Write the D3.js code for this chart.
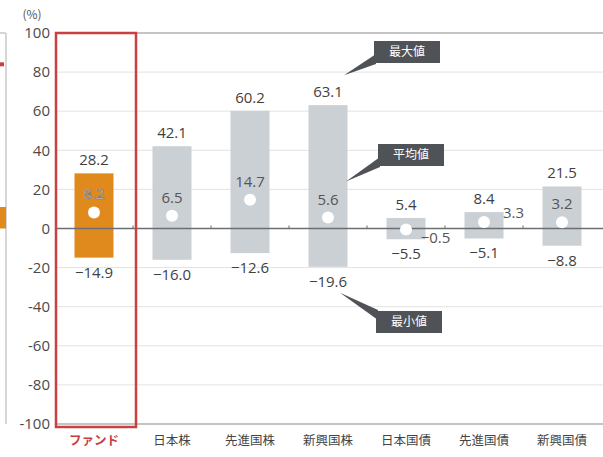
<!DOCTYPE html>
<html>
<head>
<meta charset="utf-8">
<script src="https://cdn.jsdelivr.net/npm/d3@7"></script>
<style>
  body { margin: 0; background: #fff; }
  svg { display: block; font-family: "Noto Sans CJK JP", "Noto Sans", sans-serif; }
</style>
</head>
<body>
<div id="chart"></div>
<script>
var categories = ["ファンド", "日本株", "先進国株", "新興国株", "日本国債", "先進国債", "新興国債"];
var maxVals = [28.2, 42.1, 60.2, 63.1, 5.4, 8.4, 21.5];
var meanVals = [8.2, 6.5, 14.7, 5.6, -0.5, 3.3, 3.2];
var minVals = [-14.9, -16.0, -12.6, -19.6, -5.5, -5.1, -8.8];
var yTicks = [100, 80, 60, 40, 20, 0, -20, -40, -60, -80, -100];

var W = 603, H = 457;
var plotL = 55, plotR = 601, plotT = 33, plotB = 424;

var svg = d3.select("#chart").append("svg")
  .attr("width", W).attr("height", H);

var x = d3.scaleBand().domain(categories).range([plotL, plotR]).paddingInner(0.5).paddingOuter(0.25);
var y = d3.scaleLinear().domain([-100, 100]).range([plotB, plotT]);

// bit of the neighbouring panel on the left
svg.append("line").attr("x1", 6).attr("x2", 6).attr("y1", y(100)).attr("y2", y(-100))
  .attr("stroke", "#c8c8c8").attr("stroke-width", 1.5);
svg.append("line").attr("x1", 0).attr("x2", 6).attr("y1", y(100)).attr("y2", y(100))
  .attr("stroke", "#c8c8c8").attr("stroke-width", 1.5);
svg.append("rect").attr("x", 0).attr("width", 6).attr("y", y(11)).attr("height", y(0) - y(11))
  .attr("fill", "#e08a1e");
svg.append("rect").attr("x", 0).attr("width", 4).attr("y", y(85)).attr("height", 4)
  .attr("fill", "#c8403f");

// gridlines
svg.append("g").selectAll("line").data(yTicks.filter(d => d !== 0)).join("line")
  .attr("x1", plotL).attr("x2", W)
  .attr("y1", d => y(d)).attr("y2", d => y(d))
  .attr("stroke", d => (d === 100 || d === -100) ? "#c4c4c4" : "#e2e2e2")
  .attr("stroke-width", d => (d === 100 || d === -100) ? 2 : 1);

// y axis labels
svg.append("g").selectAll("text").data(yTicks).join("text")
  .attr("x", 50).attr("y", d => y(d)).attr("dy", "0.35em")
  .attr("text-anchor", "end").attr("font-size", 15).attr("fill", "#4a4a4a")
  .attr("font-family", "Open Sans, sans-serif")
  .text(d => d);
svg.append("text").attr("x", 32).attr("y", 19).attr("text-anchor", "middle")
  .attr("font-size", 12).attr("fill", "#555").text("(%)");

// bars
svg.append("g").selectAll("rect").data(categories).join("rect")
  .attr("x", d => x(d)).attr("width", x.bandwidth())
  .attr("y", (d, i) => y(maxVals[i]))
  .attr("height", (d, i) => y(minVals[i]) - y(maxVals[i]))
  .attr("fill", (d, i) => i === 0 ? "#e08a1e" : "#cbd0d5");

// zero line and ticks
svg.append("line").attr("x1", plotL).attr("x2", W).attr("y1", y(0)).attr("y2", y(0))
  .attr("stroke", "#6b6f73").attr("stroke-width", 1.5);
svg.append("g").selectAll("line").data(categories.slice(1)).join("line")
  .attr("x1", d => x(d) - x.step() * 0.25).attr("x2", d => x(d) - x.step() * 0.25)
  .attr("y1", y(0) - 3).attr("y2", y(0))
  .attr("stroke", "#6b6f73");

// mean dots
svg.append("g").selectAll("circle").data(categories).join("circle")
  .attr("cx", d => x(d) + x.bandwidth() / 2)
  .attr("cy", (d, i) => y(meanVals[i]))
  .attr("r", 6).attr("fill", "#fff");

var numFont = "Open Sans, sans-serif";
var g = svg.append("g").attr("font-family", numFont).attr("font-size", 15).attr("fill", "#3f3f3f")
  .attr("text-anchor", "middle");

// max labels
g.selectAll("text.max").data(categories).join("text").attr("class", "max")
  .attr("x", d => x(d) + x.bandwidth() / 2)
  .attr("y", (d, i) => y(maxVals[i]) - 8)
  .text((d, i) => maxVals[i].toFixed(1));

// min labels
g.selectAll("text.min").data(categories).join("text").attr("class", "min")
  .attr("x", d => x(d) + x.bandwidth() / 2)
  .attr("y", (d, i) => y(minVals[i]) + 20)
  .text((d, i) => "\u2212" + Math.abs(minVals[i]).toFixed(1));

// mean labels (small bars get the label on the right)
var sideLabel = [false, false, false, false, true, true, false];
g.selectAll("text.mean").data(categories).join("text").attr("class", "mean")
  .attr("x", (d, i) => sideLabel[i] ? x(d) + x.bandwidth() + 10 : x(d) + x.bandwidth() / 2)
  .attr("y", (d, i) => sideLabel[i] ? y(meanVals[i]) + (meanVals[i] < 0 ? 14 : -4) : y(meanVals[i]) - 13)
  .attr("fill", (d, i) => i === 0 ? "#fff1dc" : "#555")
  .attr("stroke", (d, i) => i === 0 ? "#777" : "none")
  .attr("stroke-width", 0.7)
  .text((d, i) => (meanVals[i] < 0 ? "\u2212" : "") + Math.abs(meanVals[i]).toFixed(1));

// callouts
var cx = x("新興国株") + x.bandwidth() / 2;
var callouts = [
  { label: "最大値", bx: 374, by: 41, tipX: cx + 16, tipY: y(maxVals[3]) - 30, up: false },
  { label: "平均値", bx: 378, by: 144, tipX: cx + 18, tipY: y(meanVals[3]) - 36, up: false },
  { label: "最小値", bx: 376, by: 311, tipX: cx + 12, tipY: y(minVals[3]) + 26, up: true }
];
var bw = 66, bh = 22;
callouts.forEach(function(c) {
  var attachY = c.up ? c.by + 4 : c.by + bh - 4;
  svg.append("path")
    .attr("d", d3.line()([[c.bx + 2, attachY - 5], [c.tipX, c.tipY], [c.bx + 2, attachY + 5]]))
    .attr("fill", "#4f5357");
  svg.append("rect").attr("x", c.bx).attr("y", c.by).attr("width", bw).attr("height", bh)
    .attr("fill", "#4f5357");
  svg.append("text").attr("x", c.bx + bw / 2).attr("y", c.by + bh / 2).attr("dy", "0.36em")
    .attr("text-anchor", "middle").attr("font-size", 12).attr("fill", "#fff")
    .text(c.label);
});

// highlight frame round the fund column
svg.append("rect").attr("x", plotL + 1).attr("y", plotT).attr("width", x.step() + 2).attr("height", plotB - plotT + 3)
  .attr("fill", "none").attr("stroke", "#c8403f").attr("stroke-width", 2.5);

// category labels
svg.append("g").selectAll("text").data(categories).join("text")
  .attr("x", d => x(d) + x.bandwidth() / 2).attr("y", 445)
  .attr("text-anchor", "middle").attr("font-size", 12.5)
  .attr("font-weight", (d, i) => i === 0 ? "bold" : "normal")
  .attr("fill", (d, i) => i === 0 ? "#c8403f" : "#444")
  .text(d => d);
</script>
</body>
</html>
